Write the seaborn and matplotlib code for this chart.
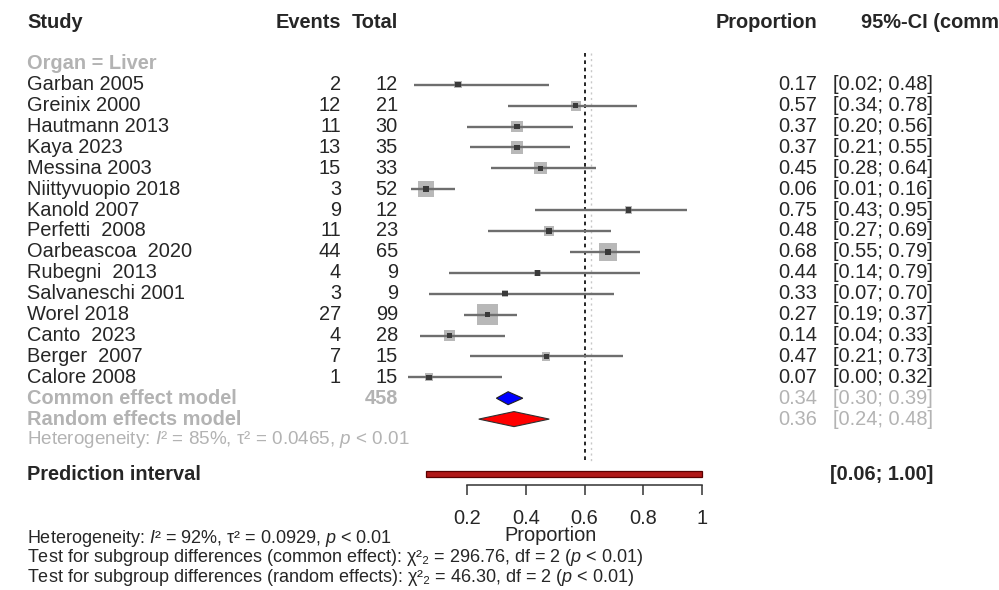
import matplotlib
matplotlib.use("Agg")
import matplotlib.pyplot as plt
import seaborn as sns
import pandas as pd

# ---------------- data ----------------
studies = ["Garban 2005", "Greinix 2000", "Hautmann 2013", "Kaya 2023", "Messina 2003",
           "Niittyvuopio 2018", "Kanold 2007", "Perfetti  2008", "Oarbeascoa  2020",
           "Rubegni  2013", "Salvaneschi 2001", "Worel 2018", "Canto  2023",
           "Berger  2007", "Calore 2008"]
events = [2, 12, 11, 13, 15, 3, 9, 11, 44, 4, 3, 27, 4, 7, 1]
totals = [12, 21, 30, 35, 33, 52, 12, 23, 65, 9, 9, 99, 28, 15, 15]
props = [0.17, 0.57, 0.37, 0.37, 0.45, 0.06, 0.75, 0.48, 0.68, 0.44, 0.33, 0.27, 0.14, 0.47, 0.07]
ci_low = [0.02, 0.34, 0.20, 0.21, 0.28, 0.01, 0.43, 0.27, 0.55, 0.14, 0.07, 0.19, 0.04, 0.21, 0.00]
ci_high = [0.48, 0.78, 0.56, 0.55, 0.64, 0.16, 0.95, 0.69, 0.79, 0.79, 0.70, 0.37, 0.33, 0.73, 0.32]

subgroup_label = "Organ = Liver"
common_est, common_low, common_high = 0.34, 0.30, 0.39
random_est, random_low, random_high = 0.36, 0.24, 0.48
subgroup_total = 458
pred_low, pred_high = 0.06, 1.00
overall_common = 0.60
overall_random = 0.622
x_ticks = [0.2, 0.4, 0.6, 0.8, 1.0]
x_tick_labels = ["0.2", "0.4", "0.6", "0.8", "1"]
subgroup_het = r"Heterogeneity: $I$² = 85%, τ² = 0.0465, $p$ < 0.01"
footer_lines = [
    r"Heterogeneity: $I$² = 92%, τ² = 0.0929, $p$ < 0.01",
    r"Test for subgroup differences (common effect): χ²₂ = 296.76, df = 2 ($p$ < 0.01)",
    r"Test for subgroup differences (random effects): χ²₂ = 46.30, df = 2 ($p$ < 0.01)",
]

# ---------------- style ----------------
sns.set_style("white")
plt.rcParams["font.family"] = ["Liberation Sans", "DejaVu Sans"]
plt.rcParams["mathtext.fontset"] = "custom"
plt.rcParams["mathtext.rm"] = "Liberation Sans"
plt.rcParams["mathtext.it"] = "Liberation Sans:italic"
plt.rcParams["mathtext.bf"] = "Liberation Sans:bold"

W, H = 999, 590
fig = plt.figure(figsize=(W / 100, H / 100), dpi=100)
ax = fig.add_axes([0, 0, 1, 1])

px_per_unit = 293.75
x0_px = 408.25
xmin = -x0_px / px_per_unit
ax.set_xlim(xmin, xmin + W / px_per_unit)
row_px = 20.9
top_px = 22
ax.set_ylim((H - top_px) / row_px, -top_px / row_px)

GREY = "#b3b3b3"
FS = 14.4
FS_SMALL = 13.0

def colx(px):
    return px / W

tr = ax.get_yaxis_transform()

# header
hdr_row = 0
ax.text(colx(27), hdr_row, "Study", transform=tr, ha="left", va="center", fontsize=FS, fontweight="bold")
ax.text(colx(341), hdr_row, "Events", transform=tr, ha="right", va="center", fontsize=FS, fontweight="bold")
ax.text(colx(398), hdr_row, "Total", transform=tr, ha="right", va="center", fontsize=FS, fontweight="bold")
ax.text(colx(817), hdr_row, "Proportion", transform=tr, ha="right", va="center", fontsize=FS, fontweight="bold")
ax.text(colx(861), hdr_row, "95%-CI (common)", transform=tr, ha="left", va="center", fontsize=FS, fontweight="bold")

# subgroup label
ax.text(colx(27), 2, subgroup_label, transform=tr, ha="left", va="center", fontsize=FS, fontweight="bold", color=GREY)

rows = list(range(3, 3 + len(studies)))
df = pd.DataFrame({"study": studies, "events": events, "total": totals, "prop": props,
                   "low": ci_low, "high": ci_high, "row": rows})

# study text
for _, r in df.iterrows():
    ax.text(colx(27), r.row, r.study, transform=tr, ha="left", va="center", fontsize=FS)
    ax.text(colx(341), r.row, f"{r.events}", transform=tr, ha="right", va="center", fontsize=FS)
    ax.text(colx(398), r.row, f"{r.total}", transform=tr, ha="right", va="center", fontsize=FS)
    ax.text(colx(817), r.row, f"{r.prop:.2f}", transform=tr, ha="right", va="center", fontsize=FS)
    ax.text(colx(933), r.row, f"[{r.low:.2f}; {r.high:.2f}]", transform=tr, ha="right", va="center", fontsize=FS)

# reference lines
line_top, line_bot = 1.5, 21.05
ax.vlines(overall_random, line_top, line_bot, colors="#c8c8c8", linestyles=(0, (1.5, 2.5)), lw=1.0, zorder=1)
ax.vlines(overall_common, line_top, line_bot, colors="black", linestyles=(0, (2.2, 2.2)), lw=1.2, zorder=1)

# squares (weights ~ total)
sns.scatterplot(data=df, x="prop", y="row", size="total", sizes=(2.4 * min(totals), 2.4 * max(totals)),
                marker="s", color="#b8b8b8", edgecolor="none", legend=False, ax=ax, zorder=2)
ax.hlines(df["row"], df["low"], df["high"], colors="#6e6e6e", lw=1.7, zorder=3)
sns.scatterplot(data=df, x="prop", y="row", marker="s", s=16, color="#3a3a3a", edgecolor="none",
                legend=False, ax=ax, zorder=4)

# model rows
ax.text(colx(27), 18, "Common effect model", transform=tr, ha="left", va="center", fontsize=FS, fontweight="bold", color=GREY)
ax.text(colx(398), 18, f"{subgroup_total}", transform=tr, ha="right", va="center", fontsize=FS, fontweight="bold", color=GREY)
ax.text(colx(817), 18, f"{common_est:.2f}", transform=tr, ha="right", va="center", fontsize=FS, color=GREY)
ax.text(colx(933), 18, f"[{common_low:.2f}; {common_high:.2f}]", transform=tr, ha="right", va="center", fontsize=FS, color=GREY)
ax.text(colx(27), 19, "Random effects model", transform=tr, ha="left", va="center", fontsize=FS, fontweight="bold", color=GREY)
ax.text(colx(817), 19, f"{random_est:.2f}", transform=tr, ha="right", va="center", fontsize=FS, color=GREY)
ax.text(colx(933), 19, f"[{random_low:.2f}; {random_high:.2f}]", transform=tr, ha="right", va="center", fontsize=FS, color=GREY)
ax.text(colx(27), 20, subgroup_het, transform=tr, ha="left", va="center", fontsize=13.6, color=GREY)

hc = 0.31
ax.fill([common_low, common_est, common_high, common_est], [18, 18 - hc, 18, 18 + hc],
        facecolor="#0000ff", edgecolor="#202020", lw=0.8, zorder=5)
hr = 0.36
ax.fill([random_low, random_est, random_high, random_est], [19, 19 - hr, 19, 19 + hr],
        facecolor="#ff0000", edgecolor="#303030", lw=0.8, zorder=5)

# prediction interval
pr = 21.63
ax.text(colx(27), pr, "Prediction interval", transform=tr, ha="left", va="center", fontsize=FS, fontweight="bold")
ax.fill([pred_low, pred_high, pred_high, pred_low], [pr - 0.14, pr - 0.14, pr + 0.14, pr + 0.14],
        facecolor="#b01818", edgecolor="#5a0000", lw=0.9, zorder=5)
ax.text(colx(933), pr, f"[{pred_low:.2f}; {pred_high:.2f}]", transform=tr, ha="right", va="center", fontsize=FS, fontweight="bold")

# x axis
for s in ["top", "left", "right"]:
    ax.spines[s].set_visible(False)
ax.spines["bottom"].set_position(("data", 22.15))
ax.spines["bottom"].set_bounds(x_ticks[0], x_ticks[-1])
ax.spines["bottom"].set_color("#333333")
ax.spines["bottom"].set_linewidth(1.1)
ax.set_xticks(x_ticks)
ax.set_xticklabels(x_tick_labels)
ax.tick_params(axis="x", bottom=True, direction="out", length=7.2, width=1.1, color="#333333",
               pad=10, labelsize=FS)
ax.set_yticks([])
ax.set_xlabel("")
ax.set_ylabel("")
ax.text(0.485, 24.58, "Proportion", ha="center", va="center", fontsize=FS)

# footer
for i, line in enumerate(footer_lines):
    ax.text(colx(27), [24.69, 25.63, 26.58][i], line, transform=tr, ha="left", va="center", fontsize=FS_SMALL)

fig.savefig("out.png", dpi=100)
